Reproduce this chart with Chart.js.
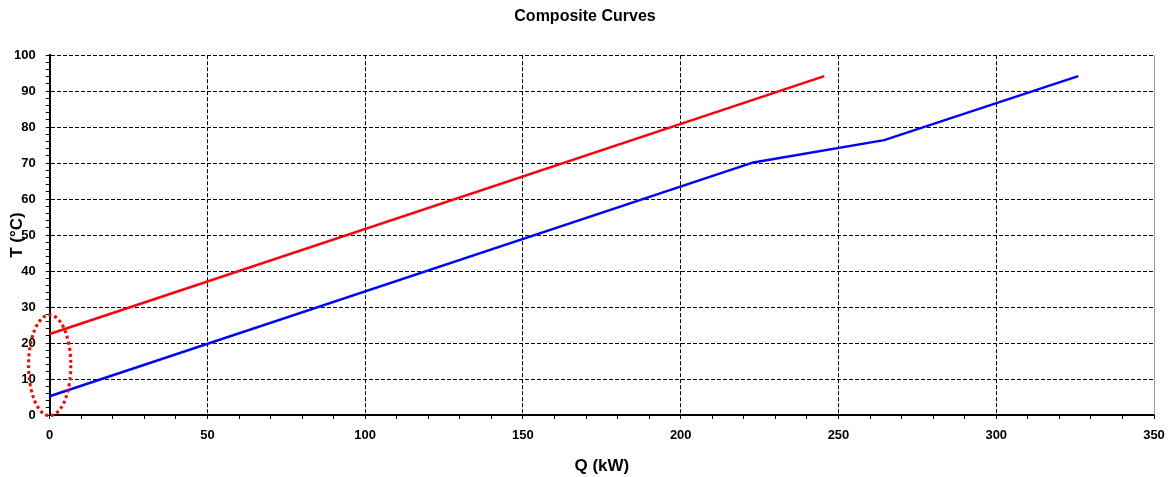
<!DOCTYPE html>
<html>
<head>
<meta charset="utf-8">
<script src="https://cdn.jsdelivr.net/npm/chart.js@4/dist/chart.umd.min.js"></script>
<style>
  html, body { margin: 0; padding: 0; background: #fff; }
  #wrap { width: 1171px; height: 477px; }
</style>
</head>
<body>
<div id="wrap"><canvas id="curveChart" width="1171" height="477"></canvas></div>
<script>
// 熱、冷組合曲線 (Q in kW, T in °C)
const hotQ = [0, 245.5];
const hotT = [22.5, 94.2];
const coldQ = [0, 223, 264.5, 326];
const coldT = [5.2, 70.2, 76.4, 94.2];

// 標示區域 (橢圓): 中心與半徑, 資料單位
const markCenter = [0, 13.8];
const markRadius = [6.7, 14];

const xMax = 350, xStep = 10, xLabelEvery = 50;
const yMax = 100, yStep = 2, yLabelEvery = 10;

const toPoints = (qs, ts) => qs.map((q, i) => ({ x: q, y: ts[i] }));

// 右邊框與橢圓, Y 軸標題
const extras = {
    id: 'extras',
    afterDraw(chart) {
        const { ctx, chartArea: a, scales: { x, y } } = chart;
        ctx.save();
        ctx.strokeStyle = '#999';
        ctx.lineWidth = 1;
        ctx.beginPath();
        ctx.moveTo(a.right + 0.5, a.top);
        ctx.lineTo(a.right + 0.5, a.bottom);
        ctx.stroke();

        const cx = x.getPixelForValue(markCenter[0]);
        const cy = y.getPixelForValue(markCenter[1]);
        const rx = x.getPixelForValue(markRadius[0]) - x.getPixelForValue(0);
        const ry = y.getPixelForValue(0) - y.getPixelForValue(markRadius[1]);
        ctx.strokeStyle = '#ff0000';
        ctx.lineWidth = 3;
        ctx.setLineDash([3, 3]);
        ctx.beginPath();
        ctx.ellipse(cx, cy, rx, ry, 0, 0, Math.PI * 2);
        ctx.stroke();
        ctx.setLineDash([]);

        ctx.fillStyle = '#000';
        ctx.font = 'bold 17px "Liberation Sans", Arial, sans-serif';
        ctx.textAlign = 'center';
        ctx.textBaseline = 'middle';
        ctx.translate(17, (a.top + a.bottom) / 2);
        ctx.rotate(-Math.PI / 2);
        ctx.fillText('T (°C)', 0, 0);
        ctx.restore();
    }
};

const tickFont = { family: '"Liberation Sans", Arial, sans-serif', size: 13, weight: 'bold' };

new Chart(document.getElementById('curveChart'), {
    type: 'scatter',
    data: {
        datasets: [{
            label: 'Hot',
            data: toPoints(hotQ, hotT),
            showLine: true,
            borderColor: '#ff0000',
            borderWidth: 2.5,
            pointRadius: 0,
            tension: 0
        }, {
            label: 'Cold',
            data: toPoints(coldQ, coldT),
            showLine: true,
            borderColor: '#0000ff',
            borderWidth: 2.5,
            pointRadius: 0,
            tension: 0
        }]
    },
    options: {
        responsive: false,
        animation: false,
        clip: false,
        layout: { padding: { left: 4, right: 5, top: 0, bottom: 0 } },
        plugins: {
            legend: { display: false },
            tooltip: { enabled: false },
            title: {
                display: true,
                text: 'Composite Curves',
                color: '#000',
                font: { family: '"Liberation Sans", Arial, sans-serif', size: 16, weight: 'bold' },
                padding: { top: 7, bottom: 29 }
            }
        },
        scales: {
            x: {
                type: 'linear',
                min: 0, max: xMax,
                afterFit: s => { s.paddingRight = 17; },
                border: { color: '#000', width: 2, dash: [4, 2] },
                grid: {
                    color: c => (c.tick.value % xLabelEvery === 0 && c.tick.value !== 0 && c.tick.value !== xMax) ? '#000' : 'rgba(0,0,0,0)',
                    tickColor: '#000',
                    tickLength: 4,
                    tickBorderDash: [],
                    lineWidth: 1
                },
                ticks: {
                    stepSize: xStep,
                    autoSkip: false,
                    maxRotation: 0,
                    color: '#000',
                    font: tickFont,
                    padding: 9,
                    callback: v => v % xLabelEvery === 0 ? v : ''
                },
                title: {
                    display: true,
                    text: 'Q (kW)',
                    color: '#000',
                    font: { family: '"Liberation Sans", Arial, sans-serif', size: 17, weight: 'bold' },
                    padding: { top: 4, bottom: 0 }
                }
            },
            y: {
                type: 'linear',
                min: 0, max: yMax,
                border: { color: '#000', width: 2, dash: [4, 2] },
                grid: {
                    color: c => (c.tick.value % yLabelEvery === 0 && c.tick.value !== 0) ? '#000' : 'rgba(0,0,0,0)',
                    tickColor: '#000',
                    tickLength: 4,
                    tickBorderDash: [],
                    lineWidth: 1
                },
                ticks: {
                    stepSize: yStep,
                    autoSkip: false,
                    color: '#000',
                    font: tickFont,
                    padding: 10,
                    callback: v => v % yLabelEvery === 0 ? v : ''
                }
            }
        }
    },
    plugins: [extras]
});
</script>
</body>
</html>
